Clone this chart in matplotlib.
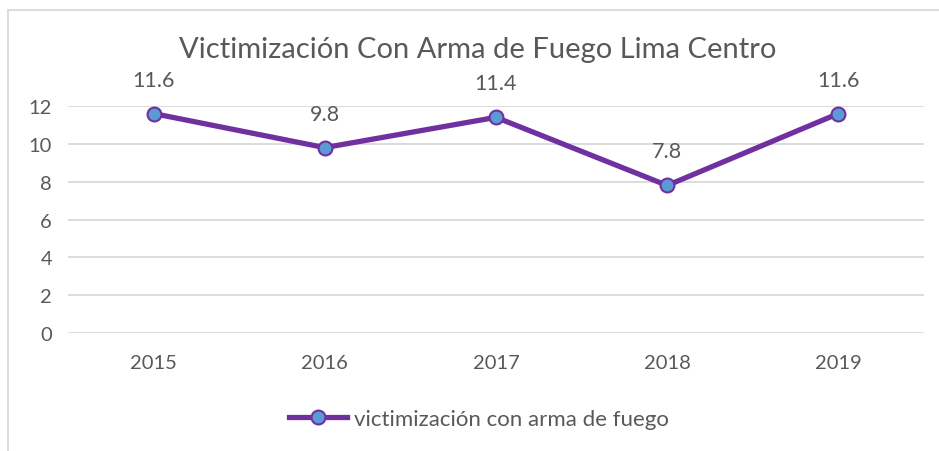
import matplotlib
matplotlib.use("Agg")
import matplotlib.pyplot as plt
from matplotlib.lines import Line2D

years = ["2015", "2016", "2017", "2018", "2019"]
values = [11.6, 9.8, 11.4, 7.8, 11.6]
yticks = [0, 2, 4, 6, 8, 10, 12]
title = "Victimización Con Arma de Fuego Lima Centro"
series_name = "victimización con arma de fuego"

plt.rcParams['font.family'] = ['Lato', 'DejaVu Sans']
TXT = "#595959"
LINE = "#7030A0"
MFACE = "#5B9BD5"

fig = plt.figure(figsize=(9.39, 4.52), dpi=100)
ax = fig.add_axes([68/939, 1-334/452, (924-68)/939, (334-107)/452])

x = list(range(len(years)))
ax.plot(x, values, color=LINE, lw=3.8, marker='o', ms=10, mfc=MFACE,
        mec=LINE, mew=1.5, solid_capstyle='round', zorder=3)
for xi, v in zip(x, values):
    ax.annotate(f"{v:.1f}", (xi, v), xytext=(0, 24.5), textcoords='offset points',
                ha='center', va='center', fontsize=15.5, color=TXT)

ax.set_xlim(-0.5, len(years) - 0.5)
ax.set_ylim(0, 12)
ax.set_yticks(yticks)
ax.set_xticks(x)
ax.set_xticklabels(years)
ax.yaxis.grid(True, color="#D9D9D9", lw=1.3)
ax.set_axisbelow(True)
for s in ax.spines.values():
    s.set_visible(False)
ax.tick_params(length=0, labelsize=14.5, colors=TXT)
ax.tick_params(axis='y', pad=11.5)
ax.tick_params(axis='x', pad=15)

fig.text(478/939, 1-50/452, title, ha='center', va='center', fontsize=21, color=TXT)

handle = Line2D([], [], color=LINE, lw=3.8, marker='o', ms=10, mfc=MFACE, mec=LINE, mew=1.5)
fig.legend([handle], [series_name], loc='center', bbox_to_anchor=(479/939, 1-420/452),
           frameon=False, fontsize=16, labelcolor=TXT, handlelength=2.6, handletextpad=0.3)

# outer chart border (top and left visible)
fig.add_artist(Line2D([8/939, 8/939], [0, 1-11/452], transform=fig.transFigure, color="#D9D9D9", lw=1.3))
fig.add_artist(Line2D([8/939, 1], [1-11/452, 1-11/452], transform=fig.transFigure, color="#D9D9D9", lw=1.3))

fig.savefig("out.png", dpi=100)
